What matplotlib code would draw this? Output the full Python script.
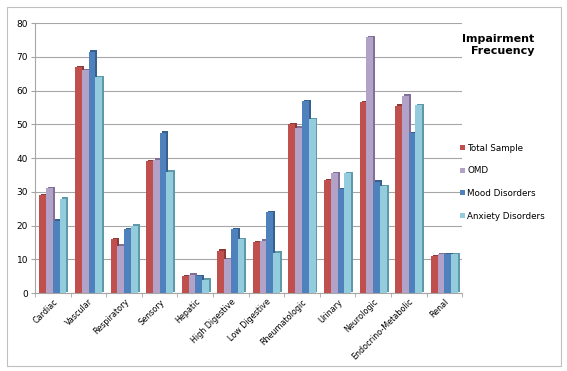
import matplotlib.pyplot as plt
import matplotlib.patheffects as pe
from matplotlib.patches import Rectangle
import numpy as np

categories = ['Cardiac', 'Vascular', 'Respiratory', 'Sensory', 'Hepatic', 'High Digestive',
              'Low Digestive', 'Rheumatologic', 'Urinary', 'Neurologic', 'Endocrino-Metabolic', 'Renal']

total_sample = [29, 67, 16, 39, 5, 12.5, 15, 50, 33.5, 56.5, 55.5, 11]
omd = [31, 66, 14, 39.5, 5.5, 10, 15.5, 49, 35.5, 75.8, 58.5, 11.5]
mood = [21.5, 71.5, 19, 47.5, 5, 19, 24, 56.8, 30.7, 33, 47.3, 11.5]
anxiety = [28, 64, 20, 36, 4, 16, 12, 51.5, 35.6, 31.7, 55.7, 11.6]

series_names = ['Total Sample', 'OMD', 'Mood Disorders', 'Anxiety Disorders']
series_values = [total_sample, omd, mood, anxiety]
colors = ['#C0504D', '#B3A2C7', '#4F81BD', '#93CDDD']
side_colors = ['#8E3A38', '#7F6F99', '#36608F', '#5E9AAA']

fig = plt.figure(figsize=(5.67, 3.71), dpi=100)
ax = fig.add_axes([0.062, 0.21, 0.753, 0.728])

# chart border
fig.patches.append(Rectangle((0.012, 0.014), 0.977, 0.967, transform=fig.transFigure,
                             fill=False, edgecolor='#BFBFBF', linewidth=0.8))

x = np.arange(len(categories))
width = 0.19
offsets = (np.arange(4) - 1.5) * width

for vals, name, col, side, off in zip(series_values, series_names, colors, side_colors, offsets):
    bars = ax.bar(x + off, vals, width, color=col, label=name, zorder=3, linewidth=0)
    for b in bars:
        b.set_path_effects([pe.SimplePatchShadow(offset=(1.4, 1.0), shadow_rgbFace=side, alpha=1.0),
                            pe.Normal()])

ax.set_xlim(-0.5, len(categories) - 0.5)
ax.set_ylim(0, 80)
ax.set_yticks(range(0, 81, 10))
ax.yaxis.grid(True, color='#A6A6A6', linewidth=0.8, zorder=0)
ax.set_axisbelow(True)

for s in ['top', 'right']:
    ax.spines[s].set_visible(False)
ax.spines['left'].set_color('#A6A6A6')
ax.spines['bottom'].set_color('#A6A6A6')

ax.set_xticks(x)
ax.set_xticklabels(categories, rotation=45, ha='right', rotation_mode='anchor', fontsize=5.8)
ax.tick_params(axis='x', length=0, pad=3)
ax.set_xticks(np.arange(-0.5, len(categories)), minor=True)
ax.tick_params(axis='x', which='minor', length=3, color='#A6A6A6')
ax.tick_params(axis='y', labelsize=6.5, length=3, color='#A6A6A6', pad=2)

fig.text(0.943, 0.878, 'Impairment\nFrecuency', ha='right', va='center',
         fontsize=8, fontweight='bold', linespacing=1.3)

leg = fig.legend(loc='center left', bbox_to_anchor=(0.797, 0.509), frameon=False,
                 fontsize=6.3, handlelength=0.55, handleheight=0.55, labelspacing=1.55,
                 handletextpad=0.3)
for h in leg.legend_handles:
    h.set_path_effects([])

fig.savefig('out.png', dpi=100)
